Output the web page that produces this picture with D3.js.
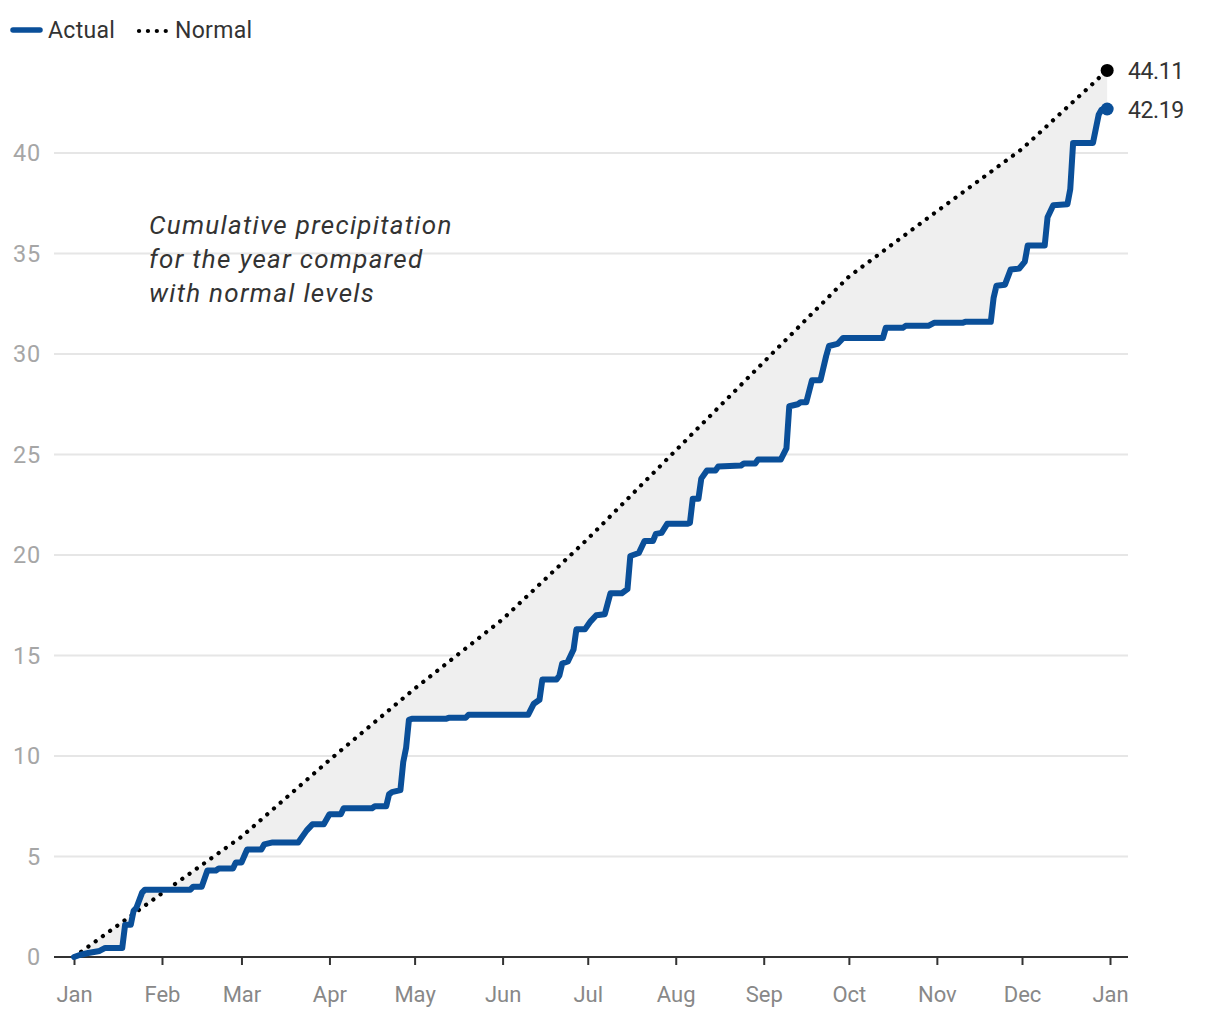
<!DOCTYPE html>
<html>
<head>
<meta charset="utf-8">
<script src="https://cdn.jsdelivr.net/npm/d3@7"></script>
<style>
  html, body { margin: 0; padding: 0; background: #fff; }
  svg { display: block; }
  text { font-family: Roboto, "Noto Sans", sans-serif; }
</style>
</head>
<body>
<svg id="chart" width="1220" height="1020"></svg>
<script>
// ---- DATA ----
const year = 2023;
// Actual cumulative precipitation breakpoints: [day of year (0 = Jan 1), inches]
const actualDays = [0,2,5,9,11,17,18,20,21,22,24,25,41,42,45,47,50,51,56,57,59,61,66,67,70,79,81,82,84,88,90,94,95,105,106,110,111,112,115,116,117,118,
  119,131,132,138,139,160,162,164,165,170,171,172,174,176,177,180,182,184,187,189,193,195,196,199,201,204,205,207,209,216,217,218,220,221,223,226,227,235,236,240,241,249,251,252,255,256,258,260,263,265,266,269,271,285,286,292,293,301,303,313,314,323,324,325,328,330,333,335,336,342,343,345,350,351,352,359,361,362,364];
const actualValues = [0,0.1,0.2,0.3,0.45,0.45,1.6,1.6,2.3,2.45,3.2,3.35,3.35,3.5,3.5,4.3,4.3,4.4,4.4,4.7,4.7,5.35,5.35,5.6,5.7,5.7,6.1,6.3,6.6,6.6,7.1,7.1,7.4,7.4,7.5,7.5,8.1,8.2,8.3,9.7,10.4,11.8,
  11.85,11.85,11.9,11.9,12.05,12.05,12.6,12.8,13.8,13.8,14.0,14.6,14.7,15.3,16.3,16.3,16.7,17.0,17.05,18.1,18.1,18.3,19.95,20.1,20.7,20.7,21.05,21.1,21.55,21.55,21.6,22.8,22.8,23.8,24.2,24.2,24.4,24.45,24.55,24.55,24.75,24.75,25.3,27.4,27.5,27.6,27.6,28.7,28.7,29.9,30.4,30.5,30.8,30.8,31.3,31.3,31.4,31.4,31.55,31.55,31.6,31.6,32.8,33.4,33.45,34.2,34.25,34.6,35.4,35.4,36.8,37.4,37.45,38.2,40.5,40.5,41.9,42.15,42.19];
// Normal cumulative precipitation: [day of year, inches]
const normalDays = [0,31,59,90,120,151,181,212,243,273,304,334,364];
const normalValues = [0,3.17,5.98,9.8,13.35,16.8,20.8,25.2,29.6,33.85,37.1,40.2,44.11];
const monthLabels = ["Jan","Feb","Mar","Apr","May","Jun","Jul","Aug","Sep","Oct","Nov","Dec","Jan"];
const yTicks = [0,5,10,15,20,25,30,35,40];
const legendLabels = ["Actual","Normal"];
const annotation = ["Cumulative precipitation","for the year compared","with normal levels"];

// ---- BUILD ----
const dayToDate = d => new Date(year, 0, 1 + d);
const actual = actualDays.map((d,i) => ({date: dayToDate(d), v: actualValues[i]}));
const normal = normalDays.map((d,i) => ({date: dayToDate(d), v: normalValues[i]}));
const tickDates = monthLabels.map((m,i) => new Date(year + (i === 12 ? 1 : 0), i % 12, 1));

const svg = d3.select("#chart");
const x = d3.scaleTime().domain([new Date(year,0,1), new Date(year+1,0,1)]).range([74, 1110]);
const y = d3.scaleLinear().domain([0, 40]).range([957, 153]);

const blue = "#0a4f99";

// gridlines
svg.append("g").selectAll("line").data(yTicks.filter(t => t > 0)).join("line")
  .attr("x1", 54).attr("x2", 1128)
  .attr("y1", d => y(d)).attr("y2", d => y(d))
  .attr("stroke", "#e6e6e6").attr("stroke-width", 2);

// y labels
svg.append("g").selectAll("text").data(yTicks).join("text")
  .attr("x", 41).attr("y", d => y(d)).attr("dy", "0.36em")
  .attr("text-anchor", "end").attr("font-size", 23.5).attr("fill", "#a6a6a6")
  .attr("letter-spacing", 0.8)
  .text(d => d);

// fill between
const lineGen = d3.line().x(d => x(d.date)).y(d => y(d.v));
const poly = normal.concat(actual.slice().reverse());
svg.append("path").attr("d", lineGen(poly) + "Z").attr("fill", "#efefef");

// x axis
const xAxis = d3.axisBottom(x).tickValues(tickDates).tickFormat((d,i) => monthLabels[i]).tickSize(8).tickSizeOuter(0);
const gx = svg.append("g").attr("transform", "translate(0,957)").call(xAxis);
gx.select(".domain").remove();
gx.append("line").attr("x1", 54).attr("x2", 1128).attr("y1", 0).attr("y2", 0).attr("stroke", "#333").attr("stroke-width", 2);
gx.selectAll(".tick line").attr("stroke", "#333").attr("stroke-width", 2);
gx.selectAll(".tick text").attr("font-size", 22).attr("fill", "#888").attr("y", 29).attr("dy", "0.71em")
  .attr("font-family", "Roboto, sans-serif");

// normal dotted line
svg.append("path").datum(normal).attr("d", lineGen)
  .attr("fill", "none").attr("stroke", "#000").attr("stroke-width", 4.2)
  .attr("stroke-linecap", "round").attr("stroke-dasharray", "0.1,8.8");

// actual line
svg.append("path").datum(actual).attr("d", lineGen)
  .attr("fill", "none").attr("stroke", blue).attr("stroke-width", 6)
  .attr("stroke-linejoin", "round").attr("stroke-linecap", "round");

// end dots and labels
const lastN = normal[normal.length-1], lastA = actual[actual.length-1];
svg.append("circle").attr("cx", x(lastN.date)).attr("cy", y(lastN.v)).attr("r", 6.5).attr("fill", "#000");
svg.append("circle").attr("cx", x(lastA.date)).attr("cy", y(lastA.v)).attr("r", 6.5).attr("fill", blue);
svg.append("text").attr("x", 1128).attr("y", y(lastN.v)).attr("dy", "0.38em").attr("font-size", 23).attr("fill", "#333").attr("letter-spacing", -0.4).text(lastN.v.toFixed(2));
svg.append("text").attr("x", 1128).attr("y", y(lastA.v)).attr("dy", "0.38em").attr("font-size", 23).attr("fill", "#333").attr("letter-spacing", -0.4).text(lastA.v.toFixed(2));

// legend
const lg = svg.append("g");
lg.append("line").attr("x1", 13).attr("x2", 40).attr("y1", 30).attr("y2", 30).attr("stroke", blue).attr("stroke-width", 5.5).attr("stroke-linecap", "round");
lg.append("text").attr("x", 48).attr("y", 30).attr("dy", "0.36em").attr("font-size", 23).attr("fill", "#333").attr("letter-spacing", 0.3).text(legendLabels[0]);
lg.append("line").attr("x1", 139).attr("x2", 166).attr("y1", 31).attr("y2", 31).attr("stroke", "#000").attr("stroke-width", 4.2).attr("stroke-linecap", "round").attr("stroke-dasharray", "0.1,8.8");
lg.append("text").attr("x", 175).attr("y", 30).attr("dy", "0.36em").attr("font-size", 23).attr("fill", "#333").attr("letter-spacing", 0.3).text(legendLabels[1]);

// annotation
svg.append("g").selectAll("text").data(annotation).join("text")
  .attr("x", 149).attr("y", (d,i) => 234 + i*34)
  .attr("font-size", 26).attr("font-style", "italic").attr("fill", "#333")
  .attr("letter-spacing", 1.3)
  .attr("font-family", "'Open Sans', sans-serif")
  .text(d => d);
</script>
</body>
</html>
